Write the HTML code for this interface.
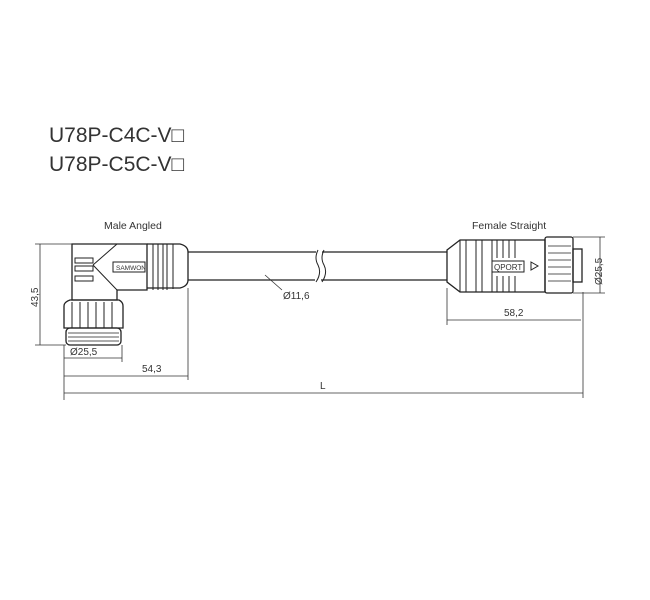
<!DOCTYPE html>
<html><head><meta charset="utf-8"><style>
html,body{margin:0;padding:0;background:#fff}
svg{display:block}
text{font-family:"Liberation Sans",sans-serif;fill:#333}
</style></head><body>
<svg width="650" height="600" viewBox="0 0 650 600" xmlns="http://www.w3.org/2000/svg">
<text x="49" y="142" font-size="21" fill="#1a1a1a">U78P-C4C-V□</text>
<text x="49" y="171" font-size="21" fill="#1a1a1a">U78P-C5C-V□</text>
<text x="104" y="229" font-size="10.5">Male Angled</text>
<text x="472" y="229" font-size="10.5">Female Straight</text>

<g fill="none" stroke="#222" stroke-width="1.3">
<path d="M188 252 H316 M322 252 H447 M188 280 H315 M321 280 H447"/>
<path d="M318 250 q-4 8 0 15 q4 8 -2 17 M324 250 q-4 8 0 15 q4 8 -2 17" stroke-width="1"/>
<path d="M72 244 H147 V290 H117 V300 H72 Z"/>
<path d="M93 265 L117 244 M93 265 L117 290" stroke-width="1"/>
<rect x="75" y="258" width="18" height="5" stroke-width="1"/>
<rect x="75" y="266" width="18" height="5" stroke-width="1"/>
<rect x="75" y="276" width="18" height="5" stroke-width="1"/>
<rect x="113" y="262" width="32" height="10" stroke-width="1"/>
<path d="M147 244 H180 Q188 246 188 252 V280 Q188 286 180 288 H147" />
<path d="M153 244 V290 M158 244 V290 M163 244 V290 M167 244 V290 M173 244 V289" stroke-width="1"/>
<path d="M70 300 H119 Q123 302 123 306 V328 H64 V306 Q64 302 70 300 Z"/>
<path d="M72 302 V328 M80 302 V328 M88 302 V328 M96 302 V328 M104 302 V328 M112 302 V328" stroke-width="1"/>
<rect x="66" y="328" width="55" height="17" rx="4"/>
<path d="M68 333 H119 M68 337 H119 M68 341 H119" stroke-width="0.8"/>
<path d="M447 250 L460 240 H545 V292 H460 L447 282 Z"/>
<path d="M460 240 V292 M466 240 V292 M476 240 V292 M482 240 V292 M492 240 V292" stroke-width="1"/>
<path d="M497 240 V258 M503 240 V258 M509 240 V258 M515 240 V258 M497 276 V292 M503 276 V292 M509 276 V292 M515 276 V292" stroke-width="1"/>
<rect x="492" y="261" width="32" height="11" stroke-width="1"/>
<path d="M531 262 L538 266 L531 270 Z" stroke-width="1"/>
<rect x="545" y="237" width="28" height="56" rx="2"/>
<path d="M548 246 H571 M548 253 H571 M548 260 H571 M548 267 H571 M548 274 H571 M548 281 H571" stroke-width="0.8"/>
<rect x="573" y="249" width="9" height="33"/>
</g>
<text x="116" y="270" font-size="6.5" fill="#222">SAMWON</text>
<text x="494" y="270" font-size="8" fill="#222">QPORT</text>

<g stroke="#333" stroke-width="0.8" fill="none">
<path d="M35 244 H72 M35 345 H66 M40 244 V345"/>
<path d="M64 345 V400 M122 345 V362 M64 358 H122"/>
<path d="M188 288 V380 M64 376 H188"/>
<path d="M64 393 H583 M583 292 V398"/>
<path d="M447 288 V325 M447 320 H581"/>
<path d="M573 237 H605 M573 293 H605 M600 237 V293"/>
<path d="M265 275 L282 290"/>
</g>
<text x="283" y="299" font-size="10">Ø11,6</text>
<text x="70" y="355" font-size="10">Ø25,5</text>
<text x="142" y="372" font-size="10">54,3</text>
<text x="320" y="389" font-size="10">L</text>
<text x="504" y="316" font-size="10">58,2</text>
<text transform="translate(38 307) rotate(-90)" font-size="10">43,5</text>
<text transform="translate(602 285) rotate(-90)" font-size="10">Ø25,5</text>
</svg>
</body></html>
